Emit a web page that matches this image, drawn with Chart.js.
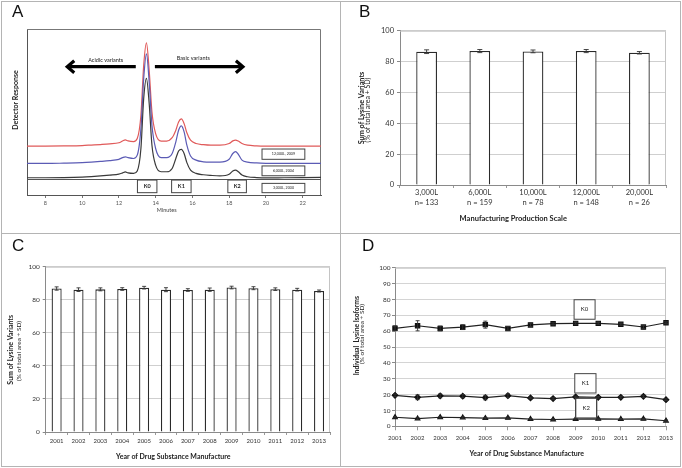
<!DOCTYPE html>
<html>
<head>
<meta charset="utf-8">
<script src="https://cdn.jsdelivr.net/npm/chart.js@4.4.0/dist/chart.umd.min.js"></script>
<style>
  html, body { margin: 0; padding: 0; background: #fff; }
  #wrap { position: relative; width: 682px; height: 468px; overflow: hidden; }
  .panel { position: absolute; border: 1px solid #b4b4b4; box-sizing: border-box; }
  canvas { position: absolute; }
  .letter { position: absolute; font-family: "Liberation Sans", Arial, sans-serif; font-size: 17px; color: #111; line-height: 20px; }
</style>
</head>
<body>
<div id="wrap">
  <div class="panel" style="left:1px;top:1px;width:340px;height:233px"></div>
  <div class="panel" style="left:340px;top:1px;width:341px;height:233px"></div>
  <div class="panel" style="left:1px;top:233px;width:340px;height:234px"></div>
  <div class="panel" style="left:340px;top:233px;width:341px;height:234px"></div>
  <canvas id="chartA" width="341" height="234" style="left:0;top:0"></canvas>
  <canvas id="chartB" width="341" height="234" style="left:341px;top:0"></canvas>
  <canvas id="chartC" width="341" height="234" style="left:0;top:234px"></canvas>
  <canvas id="chartD" width="341" height="234" style="left:341px;top:234px"></canvas>
  <div class="letter" style="left:12px;top:2px">A</div>
  <div class="letter" style="left:359px;top:2px">B</div>
  <div class="letter" style="left:12px;top:236px">C</div>
  <div class="letter" style="left:362px;top:236px">D</div>
</div>
<script>
// A : chromatogrammes (temps en minutes, réponse en unités relatives)
const minutes = [7, 8, 9, 10, 10.5, 11, 11.5, 12, 12.2, 12.35, 12.5, 12.8, 13.0, 13.2, 13.35, 13.5, 13.65, 13.8, 14.0, 14.3, 14.6, 14.9, 15.1, 15.25, 15.4, 15.55, 15.7, 15.9, 16.2, 16.6, 17, 17.5, 18.0, 18.2, 18.35, 18.5, 18.7, 19.0, 19.5, 20, 21, 22, 23];
const trace12000 = [29.5, 29.5, 29.6, 29.8, 30.1, 30.4, 30.8, 31.5, 32.5, 33.2, 32.6, 32.2, 34, 48, 78, 91.7, 75, 50, 37, 32.5, 32.5, 34.5, 39, 44, 45.8, 43, 37.5, 33, 31, 30.3, 30, 30, 31, 32.6, 33.1, 32.5, 31, 30, 29.6, 29.5, 29.5, 29.5, 29.5];
const trace6000 = [19, 19, 19.2, 19.5, 19.8, 20.2, 20.7, 21.5, 22.5, 23, 22.5, 22, 24, 40, 70, 85, 68, 42, 28, 22.5, 22.5, 25, 32, 39, 41.6, 38, 30, 23.5, 21, 20, 19.8, 19.8, 21.5, 25, 26.1, 24.5, 21, 19.8, 19.3, 19.1, 19, 19, 19];
const trace3000 = [10.4, 10.4, 10.5, 10.8, 11.1, 11.5, 12, 12.6, 13.3, 13.9, 13.3, 13, 14.5, 28, 58, 70.3, 55, 30, 18, 14, 14, 16, 22, 26.5, 27.5, 25, 19.5, 15, 13, 12.2, 11.8, 11.5, 12.5, 14.5, 15, 14, 12, 11, 10.5, 10.3, 10.4, 10.5, 10.6];
const minuteTicks = [8, 10, 12, 14, 16, 18, 20, 22];

// B : somme des variants par échelle
const scaleLabels = [["3,000L", "n= 133"], ["6,000L", "n = 159"], ["10,000L", "n = 78"], ["12,000L", "n = 148"], ["20,000L", "n = 26"]];
const scaleSum = [86.4, 86.8, 86.6, 86.8, 85.7];
const scaleSd = [1.2, 1.0, 0.9, 1.0, 0.8];

// C : somme des variants par année
const years = ["2001", "2002", "2003", "2004", "2005", "2006", "2007", "2008", "2009", "2010", "2011", "2012", "2013"];
const yearSum = [86.8, 86.1, 86.3, 86.5, 87.3, 86.1, 85.9, 86.1, 87.4, 87.0, 86.4, 86.1, 85.3];
const yearSd = [1.0, 1.1, 0.9, 0.8, 0.8, 1.2, 0.8, 1.0, 0.8, 0.9, 0.8, 0.8, 0.6];

// D : isoformes individuelles par année
const k0 = [61.8, 63.4, 61.7, 62.5, 64.1, 61.7, 63.9, 64.7, 64.9, 64.9, 64.3, 62.6, 65.3];
const k0Sd = [1.5, 3.2, 1.5, 1.5, 2.2, 1.2, 1.0, 0.6, 0.6, 0.6, 0.6, 1.0, 0.6];
const k1 = [19.5, 18.3, 19.2, 19.0, 18.1, 19.3, 17.9, 17.5, 18.5, 18.3, 18.3, 18.9, 16.8];
const k1Sd = [0.8, 1.5, 1.2, 1.0, 1.4, 1.2, 0.5, 0.5, 0.5, 0.5, 0.6, 0.7, 0.5];
const k2 = [5.7, 4.9, 5.7, 5.5, 5.1, 5.3, 4.5, 4.3, 4.5, 4.7, 4.5, 4.7, 3.5];
const k2Sd = [0.5, 0.5, 0.5, 0.5, 0.5, 0.5, 0.4, 0.4, 0.4, 0.4, 0.4, 0.4, 0.4];

const FONT = "Lato, 'Open Sans', sans-serif";
Chart.defaults.font.family = FONT;
Chart.defaults.color = '#333';
Chart.defaults.animation = false;

// Texte, cadres, flèches, lignes
function drawText(ctx, t) {
    ctx.save();
    ctx.translate(t.x, t.y);
    if (t.rotate) ctx.rotate(t.rotate);
    ctx.font = t.font;
    ctx.fillStyle = t.color || '#222';
    ctx.textAlign = 'center';
    ctx.textBaseline = 'middle';
    ctx.fillText(t.text, 0, 0);
    ctx.restore();
}

const decor = {
    id: 'decor',
    beforeDatasetsDraw(chart, args, opts) {
        const { ctx, chartArea: a, scales: { x, y } } = chart;
        ctx.save();
        if (opts.frame) {
            ctx.strokeStyle = opts.frame;
            ctx.lineWidth = 1;
            ctx.beginPath();
            ctx.moveTo(a.left, a.top + 0.5);
            ctx.lineTo(a.right - 0.5, a.top + 0.5);
            ctx.lineTo(a.right - 0.5, a.bottom);
            ctx.stroke();
        }
        (opts.hlines || []).forEach(v => {
            const py = Math.round(y.getPixelForValue(v)) + 0.5;
            ctx.strokeStyle = '#555';
            ctx.lineWidth = 1;
            ctx.beginPath();
            ctx.moveTo(a.left, py);
            ctx.lineTo(a.right, py);
            ctx.stroke();
        });
        ctx.restore();
    },
    afterDatasetsDraw(chart, args, opts) {
        const { ctx, scales: { x, y } } = chart;
        ctx.save();
        (opts.boxes || []).forEach(b => {
            const x1 = x.getPixelForValue(b.x1), x2 = x.getPixelForValue(b.x2);
            const y1 = y.getPixelForValue(b.y1), y2 = y.getPixelForValue(b.y2);
            ctx.fillStyle = '#fff';
            ctx.fillRect(x1, y1, x2 - x1, y2 - y1);
            ctx.strokeStyle = '#444';
            ctx.lineWidth = b.lw || 1;
            ctx.strokeRect(x1, y1, x2 - x1, y2 - y1);
            drawText(ctx, { x: (x1 + x2) / 2, y: (y1 + y2) / 2, text: b.text, font: b.font });
        });
        (opts.arrows || []).forEach(r => {
            const x1 = x.getPixelForValue(r.x1), x2 = x.getPixelForValue(r.x2), py = y.getPixelForValue(r.y);
            const dir = x2 > x1 ? 1 : -1;
            ctx.strokeStyle = '#000';
            ctx.lineWidth = 3.2;
            ctx.lineCap = 'butt';
            ctx.beginPath();
            ctx.moveTo(x1, py);
            ctx.lineTo(x2 - dir * 2, py);
            ctx.stroke();
            ctx.lineJoin = 'miter';
            ctx.beginPath();
            ctx.moveTo(x2 - dir * 7, py - 6);
            ctx.lineTo(x2, py);
            ctx.lineTo(x2 - dir * 7, py + 6);
            ctx.stroke();
        });
        (opts.valueTexts || []).forEach(t => {
            drawText(ctx, Object.assign({}, t, { x: x.getPixelForValue(t.x), y: y.getPixelForValue(t.y) }));
        });
        (opts.texts || []).forEach(t => drawText(ctx, t));
        ctx.restore();
    }
};

// Barres d'erreur (+/- SD)
const errBars = {
    id: 'errBars',
    afterDatasetsDraw(chart, args, opts) {
        const { ctx, scales: { y } } = chart;
        chart.data.datasets.forEach((ds, i) => {
            if (!ds.sd) return;
            const meta = chart.getDatasetMeta(i);
            ctx.save();
            ctx.strokeStyle = '#333';
            ctx.lineWidth = 0.9;
            meta.data.forEach((el, j) => {
                const v = ds.data[j], s = ds.sd[j];
                const yt = y.getPixelForValue(v + s), yb = y.getPixelForValue(v - s);
                const w = opts.cap || 2;
                ctx.beginPath();
                ctx.moveTo(el.x, yt); ctx.lineTo(el.x, yb);
                ctx.moveTo(el.x - w, yt); ctx.lineTo(el.x + w, yt);
                ctx.moveTo(el.x - w, yb); ctx.lineTo(el.x + w, yb);
                ctx.stroke();
            });
            ctx.restore();
        });
    }
};

Chart.register(decor, errBars);

const ROT = -Math.PI / 2;
const fixW = w => scale => { scale.width = w; };
const fixH = h => scale => { scale.height = h; };

// Fonction pour créer le chromatogramme (A)
function createChromatogram() {
    const pts = arr => minutes.map((m, i) => ({ x: m, y: arr[i] }));
    const line = (data, color) => ({
        data: pts(data), borderColor: color, borderWidth: 1.2, pointRadius: 0,
        cubicInterpolationMode: 'monotone', fill: false
    });
    new Chart(document.getElementById('chartA'), {
        type: 'line',
        data: {
            datasets: [
                line(trace3000, '#3a3a3a'),
                line(trace6000, '#5b5bb5'),
                line(trace12000, '#e05a5a')
            ]
        },
        options: {
            responsive: false,
            layout: { padding: { left: 0, top: 29, right: 20, bottom: 0 } },
            plugins: {
                legend: { display: false },
                tooltip: { enabled: false },
                decor: {
                    frame: '#777',
                    hlines: [9.6],
                    arrows: [
                        { x1: 12.92, x2: 9.19, y: 77.3 },
                        { x1: 13.96, x2: 18.75, y: 77.3 }
                    ],
                    valueTexts: [
                        { x: 11.28, y: 81.4, text: 'Acidic variants', font: `5.5px ${FONT}` },
                        { x: 16.05, y: 82.3, text: 'Basic variants', font: `5.5px ${FONT}` }
                    ],
                    boxes: [
                        { x1: 19.79, x2: 22.12, y1: 27.7, y2: 21.5, text: '12,000L, 2009', font: `3.6px ${FONT}` },
                        { x1: 19.79, x2: 22.12, y1: 17.5, y2: 11.6, text: '6,000L, 2004', font: `3.6px ${FONT}` },
                        { x1: 19.79, x2: 22.12, y1: 7.0, y2: 1.4, text: '3,000L, 2000', font: `3.6px ${FONT}` },
                        { x1: 13.01, x2: 14.07, y1: 9.0, y2: 1.4, text: 'K0', font: `bold 5.5px ${FONT}` },
                        { x1: 14.87, x2: 15.93, y1: 9.0, y2: 1.4, text: 'K1', font: `bold 5.5px ${FONT}` },
                        { x1: 17.93, x2: 18.94, y1: 9.0, y2: 1.4, text: 'K2', font: `bold 5.5px ${FONT}` }
                    ],
                    texts: [
                        { x: 15.7, y: 100, rotate: ROT, text: 'Detector Response', font: `bold 7px ${FONT}` },
                        { x: 166.7, y: 210.7, text: 'Minutes', font: `5.5px ${FONT}`, color: '#444' }
                    ]
                }
            },
            scales: {
                x: {
                    type: 'linear', min: 7, max: 23,
                    afterFit: fixH(39),
                    afterBuildTicks: scale => { scale.ticks = minuteTicks.map(v => ({ value: v })); },
                    grid: { drawOnChartArea: false, tickLength: 3, color: '#777' },
                    border: { color: '#555' },
                    ticks: { font: { size: 5.5 }, color: '#555', padding: 2, maxRotation: 0 }
                },
                y: {
                    min: 0, max: 100,
                    afterFit: fixW(27),
                    grid: { display: false },
                    border: { color: '#555' },
                    ticks: { display: false }
                }
            }
        }
    });
}

// Fonction pour créer un histogramme avec barres d'erreur (B et C)
function createBarChart(id, labels, values, sd, cfg) {
    new Chart(document.getElementById(id), {
        type: 'bar',
        data: {
            labels: labels,
            datasets: [{
                data: values, sd: sd,
                backgroundColor: '#fff', borderColor: '#2a2a2a', borderWidth: 1.3,
                barPercentage: cfg.barPct, categoryPercentage: 1
            }]
        },
        options: {
            responsive: false,
            layout: { padding: { left: 0, top: cfg.top, right: cfg.right, bottom: 0 } },
            plugins: {
                legend: { display: false },
                tooltip: { enabled: false },
                errBars: { cap: cfg.cap },
                decor: { frame: '#c4c4c4', texts: cfg.texts }
            },
            scales: {
                x: {
                    afterFit: fixH(cfg.xh),
                    grid: { drawOnChartArea: false, tickLength: cfg.xTick, color: '#999' },
                    border: { color: '#8a8a8a' },
                    ticks: { font: { size: cfg.xFont, lineHeight: 1.3 }, color: '#333', padding: cfg.xPad, maxRotation: 0, autoSkip: false }
                },
                y: {
                    min: 0, max: 100,
                    afterFit: fixW(cfg.yw),
                    afterBuildTicks: scale => { scale.ticks = [0, 20, 40, 60, 80, 100].map(v => ({ value: v })); },
                    grid: { color: '#cfcfcf', tickColor: '#8a8a8a', tickLength: 3 },
                    border: { color: '#8a8a8a' },
                    ticks: { font: { size: cfg.yFont }, color: '#333', padding: 3 }
                }
            }
        }
    });
}

// Fonction pour créer le graphique des isoformes (D)
function createIsoformChart() {
    const serie = (data, sd, style, r) => ({
        data: data, sd: sd, borderColor: '#222', borderWidth: 1.2,
        pointStyle: style, pointRadius: r, pointBackgroundColor: '#111', pointBorderColor: '#111',
        tension: 0, fill: false
    });
    new Chart(document.getElementById('chartD'), {
        type: 'line',
        data: {
            labels: years,
            datasets: [
                serie(k0, k0Sd, 'rect', 3),
                serie(k1, k1Sd, 'rectRot', 2.8),
                serie(k2, k2Sd, 'triangle', 2.6)
            ]
        },
        options: {
            responsive: false,
            layout: { padding: { left: 0, top: 33.7, right: 16, bottom: 0 } },
            plugins: {
                legend: { display: false },
                tooltip: { enabled: false },
                errBars: { cap: 2 },
                decor: {
                    frame: '#c4c4c4',
                    boxes: [
                        { x1: 7.93, x2: 8.86, y1: 79.8, y2: 67.5, text: 'K0', font: `6px ${FONT}` },
                        { x1: 7.96, x2: 8.90, y1: 33.2, y2: 21.0, text: 'K1', font: `6px ${FONT}` },
                        { x1: 8.00, x2: 8.93, y1: 17.7, y2: 5.2, text: 'K2', font: `6px ${FONT}`, lw: 1.3 }
                    ],
                    texts: [
                        { x: 15.5, y: 101.7, rotate: ROT, text: 'Individual  Lysine Isoforms', font: `bold 6.8px ${FONT}` },
                        { x: 21.2, y: 100, rotate: ROT, text: '(% of total area + SD)', font: `6.5px ${FONT}` },
                        { x: 185.7, y: 219.3, text: 'Year of Drug Substance Manufacture', font: `bold 7px ${FONT}` }
                    ]
                }
            },
            scales: {
                x: {
                    offset: false,
                    afterFit: fixH(41.7),
                    grid: { drawOnChartArea: false, offset: false, tickLength: 4, color: '#999' },
                    border: { color: '#8a8a8a' },
                    ticks: { font: { size: 6 }, color: '#333', padding: 4, maxRotation: 0, autoSkip: false }
                },
                y: {
                    min: 0, max: 100,
                    afterFit: fixW(54),
                    afterBuildTicks: scale => { scale.ticks = [0, 10, 20, 30, 40, 50, 60, 70, 80, 90, 100].map(v => ({ value: v })); },
                    grid: { color: '#d4d4d4', tickColor: '#8a8a8a', tickLength: 3 },
                    border: { color: '#8a8a8a' },
                    ticks: { font: { size: 6.5 }, color: '#333', padding: 1.5 }
                }
            }
        }
    });
}

// Initialiser les quatre panneaux
createChromatogram();
createBarChart('chartB', scaleLabels, scaleSum, scaleSd, {
    barPct: 0.39, top: 30.7, right: 16, yw: 59, xh: 49, xTick: 3, xPad: 0, xFont: 7.5, yFont: 7.5, cap: 2.5,
    texts: [
        { x: 20.5, y: 108, rotate: ROT, text: 'Sum of Lysine Variants', font: `bold 7.3px ${FONT}` },
        { x: 26.3, y: 110, rotate: ROT, text: '(% of total area + SD)', font: `7px ${FONT}` },
        { x: 172.3, y: 218.3, text: 'Manufacturing Production Scale', font: `bold 7.5px ${FONT}` }
    ]
});
createBarChart('chartC', years, yearSum, yearSd, {
    barPct: 0.46, top: 32.7, right: 11, yw: 45.7, xh: 36, xTick: 3, xPad: 2, xFont: 6, yFont: 6.5, cap: 2,
    texts: [
        { x: 11.2, y: 115.8, rotate: ROT, text: 'Sum of Lysine Variants', font: `bold 7px ${FONT}` },
        { x: 18.7, y: 117, rotate: ROT, text: '(% of total area + SD)', font: `6.5px ${FONT}` },
        { x: 173.3, y: 222.7, text: 'Year of Drug Substance Manufacture', font: `bold 7px ${FONT}` }
    ]
});
createIsoformChart();
</script>
</body>
</html>
